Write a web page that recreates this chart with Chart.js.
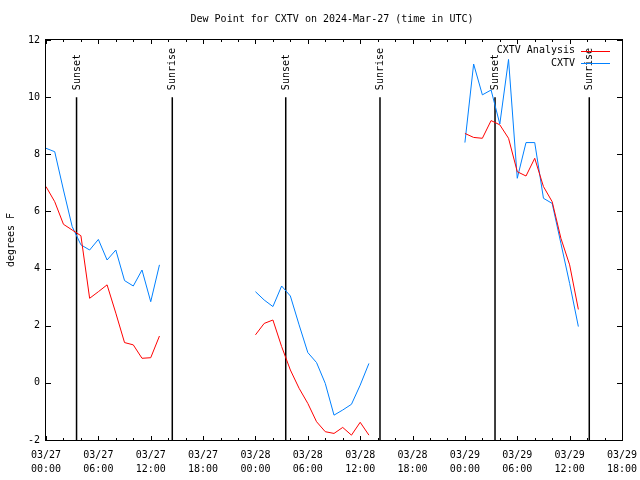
<!DOCTYPE html>
<html lang="en">
<head>
<meta charset="UTF-8">
<title>Dew Point for CXTV</title>
<script src="https://cdn.jsdelivr.net/npm/chart.js"></script>
<style>
    html, body { margin: 0; padding: 0; background: #fff; }
    .canvas-container { width: 640px; height: 480px; }
</style>
</head>
<body>

<div class="canvas-container">
    <canvas id="dewChart" width="640" height="480"></canvas>
</div>

<script>
    // hours are counted from 03/27 00:00 UTC
    const segmentStart = [0, 24, 48];

    // CXTV Analysis (red), one value per hour in each segment
    const analysis = [
        [6.87, 6.34, 5.55, 5.35, 5.15, 2.96, 3.19, 3.43, 2.44, 1.41, 1.33, 0.86, 0.88, 1.64],
        [1.68, 2.08, 2.20, 1.27, 0.45, -0.19, -0.72, -1.36, -1.71, -1.77, -1.56, -1.83, -1.38, -1.83],
        [8.73, 8.59, 8.56, 9.18, 9.03, 8.56, 7.39, 7.24, 7.86, 6.87, 6.34, 5.06, 4.13, 2.57]
    ];

    // CXTV observations (blue)
    const observed = [
        [8.21, 8.09, 6.75, 5.47, 4.83, 4.65, 5.02, 4.30, 4.65, 3.58, 3.39, 3.95, 2.84, 4.13],
        [3.19, 2.90, 2.67, 3.39, 3.04, 2.03, 1.06, 0.71, -0.02, -1.13, -0.95, -0.75, -0.08, 0.68],
        [8.41, 11.16, 10.08, 10.25, 9.06, 11.32, 7.16, 8.41, 8.41, 6.46, 6.28, 4.88, 3.48, 1.97]
    ];

    const sunsetHours = [3.5, 27.47, 51.45];
    const sunriseHours = [14.47, 38.27, 62.25];

    const xMin = 0, xMax = 66;
    const yMin = -2, yMax = 12;

    const titleText = 'Dew Point for CXTV on 2024-Mar-27 (time in UTC)';

    // turn the segments into x/y points with a null break between them
    function toPoints(segments) {
        const pts = [];
        segments.forEach((vals, s) => {
            vals.forEach((v, i) => pts.push({ x: segmentStart[s] + i, y: v }));
            pts.push({ x: segmentStart[s] + vals.length, y: null });
        });
        return pts;
    }

    function pad(n) { return String(n).padStart(2, '0'); }

    function timeLabel(h) {
        const day = 27 + Math.floor(h / 24);
        return ['03/' + pad(day), pad(h % 24) + ':00'];
    }

    const datasets = [
        { label: 'CXTV Analysis', data: toPoints(analysis), borderColor: '#ff0000', borderWidth: 1 },
        { label: 'CXTV', data: toPoints(observed), borderColor: '#0080ff', borderWidth: 1 }
    ];

    sunsetHours.forEach(h => datasets.push({
        label: 'Sunset', sun: true, data: [{ x: h, y: 10 }, { x: h, y: yMin }],
        borderColor: '#000', borderWidth: 1.5
    }));
    sunriseHours.forEach(h => datasets.push({
        label: 'Sunrise', sun: true, data: [{ x: h, y: 10 }, { x: h, y: yMin }],
        borderColor: '#000', borderWidth: 1.5
    }));

    const FONT = '10px "DejaVu Sans Mono", monospace';

    // gnuplot style frame, inward ticks, sun labels, titles and legend
    const gnuplotFrame = {
        id: 'gnuplotFrame',
        afterDatasetsDraw(chart) {
            const { ctx, chartArea: a, scales: { x, y } } = chart;
            ctx.save();
            ctx.strokeStyle = '#000';
            ctx.lineWidth = 1;
            ctx.beginPath();
            for (let h = xMin; h <= xMax; h += 2) {
                const px = Math.round(x.getPixelForValue(h)) + 0.5;
                const len = h % 6 === 0 ? 4 : 2;
                ctx.moveTo(px, a.bottom); ctx.lineTo(px, a.bottom - len);
                ctx.moveTo(px, a.top); ctx.lineTo(px, a.top + len);
            }
            for (let v = yMin; v <= yMax; v += 2) {
                const py = Math.round(y.getPixelForValue(v)) + 0.5;
                ctx.moveTo(a.left, py); ctx.lineTo(a.left + 5, py);
                ctx.moveTo(a.right, py); ctx.lineTo(a.right - 5, py);
            }
            ctx.stroke();
            ctx.strokeRect(Math.round(a.left) - 0.5, Math.round(a.top) - 0.5,
                Math.round(a.right - a.left) + 1, Math.round(a.bottom - a.top) + 1);

            ctx.fillStyle = '#000';
            ctx.font = FONT;

            // title, centred over the plot
            ctx.textAlign = 'center';
            ctx.textBaseline = 'middle';
            ctx.fillText(titleText, (a.left + a.right) / 2 - 2, 19);

            // sunrise / sunset labels, vertical, just above the lines
            chart.data.datasets.forEach(ds => {
                if (!ds.sun) return;
                const px = x.getPixelForValue(ds.data[0].x);
                const py = y.getPixelForValue(ds.data[0].y) - 7;
                ctx.save();
                ctx.translate(px + 0.5, py);
                ctx.rotate(-Math.PI / 2);
                ctx.textAlign = 'left';
                ctx.textBaseline = 'middle';
                ctx.fillText(ds.label, 0, 0);
                ctx.restore();
            });

            // y axis label
            ctx.save();
            ctx.translate(11, (a.top + a.bottom) / 2);
            ctx.rotate(-Math.PI / 2);
            ctx.textAlign = 'center';
            ctx.textBaseline = 'middle';
            ctx.fillText('degrees F', 0, 0);
            ctx.restore();

            // legend, text first then line sample
            ctx.textAlign = 'right';
            ctx.textBaseline = 'middle';
            chart.data.datasets.filter(ds => !ds.sun).forEach((ds, i) => {
                const ly = a.top + 10.5 + i * 12.5;
                ctx.fillText(ds.label, a.right - 47, ly);
                ctx.strokeStyle = ds.borderColor;
                ctx.beginPath();
                ctx.moveTo(a.right - 41, Math.round(ly) + 0.5);
                ctx.lineTo(a.right - 12, Math.round(ly) + 0.5);
                ctx.stroke();
            });
            ctx.restore();
        }
    };

    Chart.defaults.font.family = '"DejaVu Sans Mono", monospace';
    Chart.defaults.font.size = 10;
    Chart.defaults.color = '#000';

    const ctx = document.getElementById('dewChart').getContext('2d');

    const dewChart = new Chart(ctx, {
        type: 'line',
        data: { datasets: datasets },
        options: {
            responsive: false,
            animation: false,
            spanGaps: false,
            elements: {
                point: { radius: 0 },
                line: { tension: 0, fill: false }
            },
            layout: { padding: { left: 0, right: 18, top: 40, bottom: 0 } },
            plugins: {
                legend: { display: false },
                tooltip: { enabled: false },
                title: { display: false }
            },
            scales: {
                x: {
                    type: 'linear',
                    min: xMin,
                    max: xMax,
                    afterFit: scale => {
                        scale.height = 40;
                        scale.paddingLeft = 0;
                        scale.paddingRight = 0;
                    },
                    grid: { display: false, drawTicks: false },
                    border: { display: false },
                    ticks: {
                        stepSize: 6,
                        autoSkip: false,
                        maxRotation: 0,
                        padding: 8,
                        font: { size: 10, lineHeight: 1.4 },
                        callback: value => timeLabel(value)
                    }
                },
                y: {
                    min: yMin,
                    max: yMax,
                    afterFit: scale => {
                        scale.width = 46;
                        scale.paddingTop = 0;
                        scale.paddingBottom = 0;
                    },
                    grid: { display: false, drawTicks: false },
                    border: { display: false },
                    ticks: { stepSize: 2, padding: 6 }
                }
            }
        },
        plugins: [gnuplotFrame]
    });
</script>

</body>
</html>
